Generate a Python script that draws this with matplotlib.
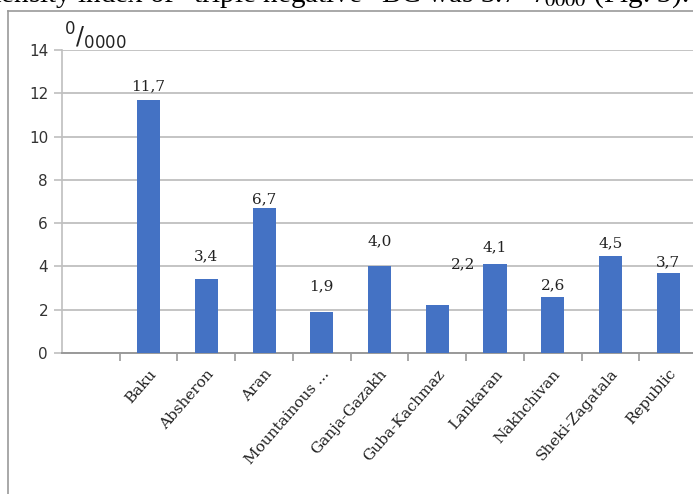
import numpy as np
import matplotlib.pyplot as plt

regions = ['', 'Baku', 'Absheron', 'Aran', 'Mountainous ...', 'Ganja-Gazakh',
           'Guba-Kachmaz', 'Lankaran', 'Nakhchivan', 'Sheki-Zagatala', 'Republic']
values = [np.nan, 11.7, 3.4, 6.7, 1.9, 4.0, 2.2, 4.1, 2.6, 4.5, 3.7]
value_labels = ['', '11,7', '3,4', '6,7', '1,9', '4,0', '2,2', '4,1', '2,6', '4,5', '3,7']
yticks = [0, 2, 4, 6, 8, 10, 12, 14]

bar_color = '#4472C4'
grid_color = '#BFBFBF'
px = 0.72  # points per pixel at 100 dpi

fig = plt.figure(figsize=(6.93, 4.94), dpi=100)

# cut-off line of the surrounding document text
fig.text(688 / 693, 1 - 3 / 494,
         'density index of \u201ctriple negative\u201d BC was 3.7 $^{0}/_{0000}$ (Fig. 3).',
         ha='right', va='baseline', fontsize=21, family='Liberation Serif',
         math_fontfamily='stix')

# frame of the chart object
fig.add_artist(plt.Line2D([8 / 693, 1], [1 - 11 / 494, 1 - 11 / 494],
                          color='#999999', lw=1.2, transform=fig.transFigure))
fig.add_artist(plt.Line2D([8 / 693, 8 / 693], [0, 1 - 11 / 494],
                          color='#999999', lw=1.2, transform=fig.transFigure))

ax = fig.add_axes([62 / 693, 141 / 494, 635 / 693, 303 / 494])
x = np.arange(len(regions))
ax.bar(x, values, width=0.4, color=bar_color, zorder=3)

ax.set_xlim(-0.5, len(regions) - 0.5)
ax.set_ylim(0, 14)
ax.set_yticks(yticks)
ax.set_yticklabels([str(t) for t in yticks], fontsize=11, family='DejaVu Sans',
                   color='#333333')
ax.yaxis.grid(True, color=grid_color, lw=1.3, zorder=0)
ax.tick_params(axis='y', length=6, color=grid_color, width=1.2, pad=4)

ax.set_xticks(x)
ax.set_xticklabels(regions, rotation=49, ha='right', rotation_mode='anchor',
                   fontsize=11, family='DejaVu Serif', color='#222222')
ax.tick_params(axis='x', which='major', length=0, pad=10)
ax.set_xticks(np.arange(len(regions)) + 0.5, minor=True)
ax.tick_params(axis='x', which='minor', length=6, color='#999999', width=1.2)

for s in ['top', 'right']:
    ax.spines[s].set_visible(False)
ax.spines['left'].set_color(grid_color)
ax.spines['bottom'].set_color('#999999')
ax.spines['left'].set_linewidth(1.2)
ax.spines['bottom'].set_linewidth(1.4)

# value labels, placed by hand in the original (pixel offsets dx, dy)
offsets = [(0, 0), (0, 6), (0, 16), (0, 2), (0, 19), (0, 18),
           (26, 34), (0, 10), (0, 4), (0, 5), (0, 4)]
for i, (v, lab) in enumerate(zip(values, value_labels)):
    if not lab:
        continue
    dx, dy = offsets[i]
    ax.annotate(lab, (i, v), xytext=(dx * px, dy * px), textcoords='offset points',
                ha='center', va='bottom', fontsize=11, family='DejaVu Serif',
                color='#222222')

ax.text(0.003, 0.995, '$^{0}/_{0000}$', transform=ax.transAxes, fontsize=17,
        ha='left', va='bottom', math_fontfamily='dejavusans', color='#222222')

fig.savefig('out.png', dpi=100)
